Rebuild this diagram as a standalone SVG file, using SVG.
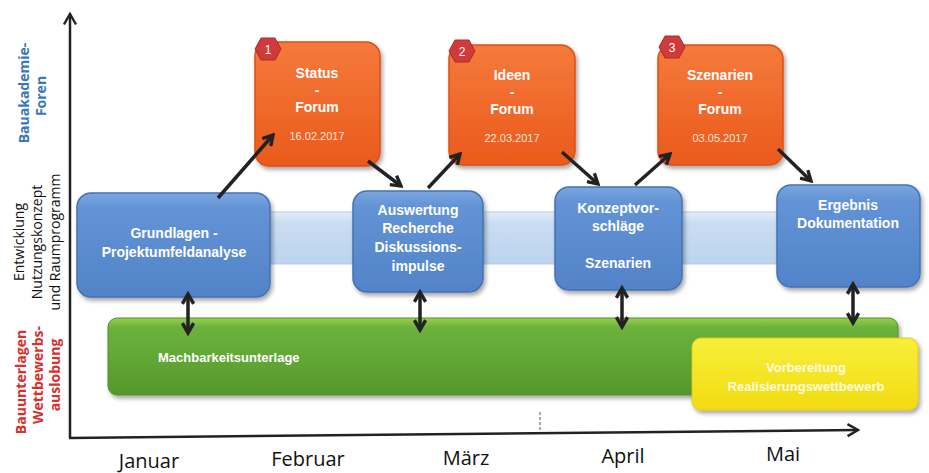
<svg xmlns="http://www.w3.org/2000/svg" width="929" height="473" viewBox="0 0 929 473">
<defs>
<linearGradient id="gOr" x1="0" y1="0" x2="0" y2="1"><stop offset="0" stop-color="#f57a3c"/><stop offset="1" stop-color="#ea5a1c"/></linearGradient>
<linearGradient id="gBl" x1="0" y1="0" x2="0" y2="1"><stop offset="0" stop-color="#7aa6e0"/><stop offset="0.15" stop-color="#6393d6"/><stop offset="1" stop-color="#5283c8"/></linearGradient>
<linearGradient id="gGr" x1="0" y1="0" x2="0" y2="1"><stop offset="0" stop-color="#9ad050"/><stop offset="0.12" stop-color="#6cb23c"/><stop offset="1" stop-color="#55992c"/></linearGradient>
<linearGradient id="gYe" x1="0" y1="0" x2="0" y2="1"><stop offset="0" stop-color="#f8ee3a"/><stop offset="1" stop-color="#f2dc12"/></linearGradient>
<linearGradient id="gBand" x1="0" y1="0" x2="0" y2="1"><stop offset="0" stop-color="#e4eef9"/><stop offset="0.2" stop-color="#c9ddf2"/><stop offset="1" stop-color="#bcd4ee"/></linearGradient>
<filter id="sh" x="-10%" y="-10%" width="125%" height="130%"><feDropShadow dx="2" dy="3" stdDeviation="2" flood-color="#000" flood-opacity="0.35"/></filter>
<marker id="ah" viewBox="0 0 10 10" refX="8" refY="5" markerWidth="4" markerHeight="4" orient="auto-start-reverse" markerUnits="strokeWidth">
<path d="M1,1 L8,5 L1,9" fill="none" stroke="#222" stroke-width="2.4" stroke-linejoin="miter"/>
</marker>
<marker id="axh" viewBox="0 0 10 10" refX="8" refY="5" markerWidth="6" markerHeight="6" orient="auto" markerUnits="strokeWidth">
<path d="M1,1 L8,5 L1,9" fill="none" stroke="#222" stroke-width="1.6"/>
</marker>
</defs>
<style>
.bx{stroke-width:1.5}
.or{fill:url(#gOr);stroke:#e04e14}
.bl{fill:url(#gBl);stroke:#4672b3}
.t{font-family:"Liberation Sans",Arial,sans-serif;font-weight:bold;font-size:14px;fill:#fff;text-anchor:middle}
.s{font-size:13px}
.st{text-anchor:start}
.yt{fill:#fffbe0}
.d{font-family:"Liberation Sans",Arial,sans-serif;font-size:11px;fill:#fde3d4;text-anchor:middle}
.hx{fill:#cf3a3a;stroke:#b02a2a;stroke-width:1}
.hn{font-family:"Liberation Sans",Arial,sans-serif;font-size:12px;fill:#fff;text-anchor:middle}
.m{font-family:"Open Sans","Noto Sans",sans-serif;font-size:20px;fill:#111;text-anchor:middle}
.lab{font-family:"Open Sans","Noto Sans",sans-serif;font-size:14px;text-anchor:middle}
.arr{fill:none;stroke:#222;stroke-width:3.5;marker-end:url(#ah)}
.dbl{fill:none;stroke:#222;stroke-width:3.5;marker-start:url(#ah);marker-end:url(#ah)}
</style>

<g id="axes">
<line x1="70" y1="438" x2="70" y2="14" stroke="#222" stroke-width="2.5" marker-end="url(#axh)"/>
<line x1="69" y1="438" x2="858" y2="430" stroke="#222" stroke-width="2.5" marker-end="url(#axh)"/>
<line x1="540" y1="412" x2="540" y2="432" stroke="#555" stroke-width="1" stroke-dasharray="3,2"/>
</g>

<g id="axis-labels">
<g class="lab" fill="#3b78b8" font-weight="bold">
<text transform="translate(29,93) rotate(-90)">Bauakademie-</text>
<text transform="translate(46,96) rotate(-90)">Foren</text>
</g>
<g class="lab" fill="#111">
<text transform="translate(24,242) rotate(-90)">Entwicklung</text>
<text transform="translate(42,242) rotate(-90)">Nutzungskonzept</text>
<text transform="translate(60,242) rotate(-90)">und Raumprogramm</text>
</g>
<g class="lab" fill="#d8302c" font-weight="bold">
<text transform="translate(26,382) rotate(-90)">Bauunterlagen</text>
<text transform="translate(43,375) rotate(-90)">Wettbewerbs-</text>
<text transform="translate(60,375) rotate(-90)">auslobung</text>
</g>
</g>

<g id="months">
<text class="m" x="149" y="468">Januar</text>
<text class="m" x="308" y="466">Februar</text>
<text class="m" x="466" y="465">März</text>
<text class="m" x="623" y="463">April</text>
<text class="m" x="783" y="461">Mai</text>
</g>

<g id="band">
<rect x="262" y="212" width="650" height="52" fill="url(#gBand)" stroke="#b3cbe6" stroke-width="1"/>
</g>

<g id="machbarkeit">
<rect x="108" y="318" width="790" height="77" rx="9" fill="url(#gGr)" stroke="#4f8f2a" stroke-width="1" filter="url(#sh)"/>
<text class="t s st" x="158" y="362">Machbarkeitsunterlage</text>
</g>

<g id="vorbereitung">
<rect x="692" y="338" width="226" height="72" rx="9" fill="url(#gYe)" stroke="#e4c814" stroke-width="1" filter="url(#sh)"/>
<text class="t s yt" x="806" y="372">Vorbereitung</text>
<text class="t s yt" x="806" y="391">Realisierungswettbewerb</text>
</g>

<g id="forum1">
<rect class="bx or" x="255" y="42" width="125" height="124" rx="14" filter="url(#sh)"/>
<text class="t" x="317" y="78">Status</text>
<text class="t" x="317" y="95">-</text>
<text class="t" x="317" y="112">Forum</text>
<text class="d" x="317" y="140">16.02.2017</text>
<polygon class="hx" points="261,38 275,38 281,49 275,60 261,60 255,49"/>
<text class="hn" x="268" y="54">1</text>
</g>

<g id="forum2">
<rect class="bx or" x="449" y="45" width="126" height="120" rx="14" filter="url(#sh)"/>
<text class="t" x="512" y="80">Ideen</text>
<text class="t" x="512" y="97">-</text>
<text class="t" x="512" y="114">Forum</text>
<text class="d" x="512" y="142">22.03.2017</text>
<polygon class="hx" points="455,40 469,40 475,51 469,62 455,62 449,51"/>
<text class="hn" x="462" y="56">2</text>
</g>

<g id="forum3">
<rect class="bx or" x="658" y="45" width="125" height="120" rx="14" filter="url(#sh)"/>
<text class="t" x="720" y="80">Szenarien</text>
<text class="t" x="720" y="97">-</text>
<text class="t" x="720" y="114">Forum</text>
<text class="d" x="720" y="142">03.05.2017</text>
<polygon class="hx" points="665,36 679,36 685,47 679,58 665,58 659,47"/>
<text class="hn" x="672" y="52">3</text>
</g>

<g id="grundlagen">
<rect class="bx bl" x="77" y="193" width="193" height="104" rx="14" filter="url(#sh)"/>
<text class="t" x="174" y="238">Grundlagen -</text>
<text class="t" x="174" y="257">Projektumfeldanalyse</text>
</g>

<g id="auswertung">
<rect class="bx bl" x="353" y="191" width="130" height="101" rx="14" filter="url(#sh)"/>
<text class="t" x="418" y="215">Auswertung</text>
<text class="t" x="418" y="233">Recherche</text>
<text class="t" x="418" y="252">Diskussions-</text>
<text class="t" x="418" y="271">impulse</text>
</g>

<g id="konzept">
<rect class="bx bl" x="555" y="187" width="127" height="103" rx="14" filter="url(#sh)"/>
<text class="t" x="618" y="213">Konzeptvor-</text>
<text class="t" x="618" y="231">schläge</text>
<text class="t" x="618" y="268">Szenarien</text>
</g>

<g id="ergebnis">
<rect class="bx bl" x="777" y="185" width="143" height="102" rx="14" filter="url(#sh)"/>
<text class="t" x="848" y="210">Ergebnis</text>
<text class="t" x="848" y="228">Dokumentation</text>
</g>

<g id="connectors">
<line class="arr" x1="218" y1="198" x2="273" y2="135"/>
<line class="arr" x1="368" y1="161" x2="401" y2="186"/>
<line class="arr" x1="428" y1="188" x2="460" y2="154"/>
<line class="arr" x1="562" y1="152" x2="598" y2="184"/>
<line class="arr" x1="635" y1="185" x2="670" y2="154"/>
<line class="arr" x1="778" y1="149" x2="811" y2="181"/>
<line class="dbl" x1="188" y1="294" x2="188" y2="333"/>
<line class="dbl" x1="420" y1="292" x2="420" y2="330"/>
<line class="dbl" x1="622" y1="288" x2="622" y2="327"/>
<line class="dbl" x1="853" y1="284" x2="853" y2="323"/>
</g>
</svg>
